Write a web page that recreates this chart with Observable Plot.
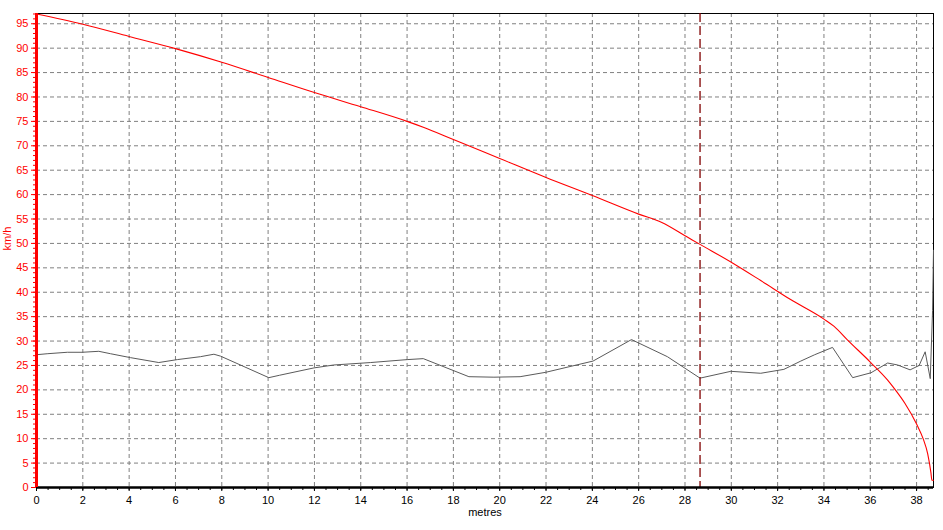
<!DOCTYPE html>
<html>
<head>
<meta charset="utf-8">
<script src="https://cdn.jsdelivr.net/npm/d3@7"></script>
<script src="https://cdn.jsdelivr.net/npm/@observablehq/plot@0.6"></script>
<style>
  html, body { margin: 0; padding: 0; background: #fff; }
  #chart svg { display: block; background: #fff; }
</style>
</head>
<body>
<div id="chart"></div>
<script>
// Red series: speed (km/h) vs distance (metres)
const redDistance = [0, 2, 4, 6, 8, 10, 12, 14, 16, 16.7, 18, 20, 22, 24, 26, 27, 28.1, 28.65, 30.05, 31.27, 32.56, 34, 34.44, 35, 36, 36.75, 37, 37.5, 38, 38.29, 38.48, 38.62, 38.66, 38.73];
const redSpeed    = [97.0, 94.9, 92.4, 89.9, 87.1, 84.0, 80.9, 78.0, 75.0, 73.8, 71.3, 67.4, 63.5, 59.8, 56.0, 54.3, 51.3, 49.8, 46.0, 42.4, 38.5, 34.5, 33.0, 30.3, 25.7, 22.0, 20.5, 17.2, 13.0, 9.9, 6.9, 3.0, 1.5, 1.5];

// Grey series
const greyDistance = [0, 0.46, 1.33, 1.97, 2.69, 3.2, 4.06, 5.28, 6.08, 7.08, 7.66, 7.95, 10.03, 10.5, 11.98, 12.84, 14.43, 16.01, 16.7, 18.67, 19.75, 20.88, 21.99, 24.03, 25.69, 27.24, 28.65, 29.98, 31.27, 32.27, 33.0, 33.6, 34.37, 35.24, 36.03, 36.75, 37.18, 37.72, 38.11, 38.37, 38.59, 38.69, 38.73];
const greySpeed    = [27.2, 27.4, 27.7, 27.7, 27.9, 27.4, 26.6, 25.6, 26.2, 26.8, 27.3, 26.9, 22.5, 23.0, 24.5, 25.1, 25.6, 26.2, 26.4, 22.7, 22.6, 22.7, 23.6, 25.9, 30.3, 26.8, 22.4, 23.8, 23.4, 24.2, 25.9, 27.2, 28.7, 22.5, 23.5, 25.5, 25.1, 24.1, 25.0, 27.8, 22.3, 36.3, 48.6];

// Marker and axis settings
const markerDistance = [28.65];
const xDomain = [0, 38.73];
const yDomain = [0, 97.1];
const xMajorTicks = d3.range(0, 39, 2);
const xMinorTicks = d3.range(0, 38.75, 0.5);
const yMajorTicks = d3.range(0, 96, 5);
const yMinorTicks = d3.range(0, 98, 1);
const xGridTicks = d3.range(2, 39, 2);
const yGridTicks = d3.range(5, 96, 5);
const xLabel = ["metres"];
const yLabel = ["km/h"];

const redData = redDistance.map((d, i) => ({distance: d, speed: redSpeed[i]}));
const greyData = greyDistance.map((d, i) => ({distance: d, speed: greySpeed[i]}));

const chart = Plot.plot({
  width: 943,
  height: 530,
  marginLeft: 36,
  marginRight: 10,
  marginTop: 13,
  marginBottom: 43,
  style: {fontFamily: "'Liberation Sans', Arial, sans-serif", fontSize: "11px", background: "#fff", overflow: "visible"},
  x: {domain: xDomain, label: null},
  y: {domain: yDomain, label: null},
  marks: [
    Plot.gridX(xGridTicks, {stroke: "#808080", strokeOpacity: 1, strokeDasharray: "4,3"}),
    Plot.gridY(yGridTicks, {stroke: "#808080", strokeOpacity: 1, strokeDasharray: "4,3"}),
    Plot.frame({stroke: "#000", strokeWidth: 1}),
    Plot.line(greyData, {x: "distance", y: "speed", stroke: "#5a5a5a", strokeWidth: 1}),
    Plot.line(redData, {x: "distance", y: "speed", stroke: "#ff0000", strokeWidth: 1.1, curve: "monotone-x"}),
    Plot.ruleX(markerDistance, {stroke: "#800000", strokeWidth: 1.3, strokeDasharray: "9,4"}),
    Plot.ruleY([0], {stroke: "#000", strokeWidth: 2.5}),
    Plot.ruleX([0], {stroke: "#ff0000", strokeWidth: 3}),
    Plot.axisX(xMinorTicks, {tickSize: 3, tickFormat: () => "", color: "#000", label: null}),
    Plot.axisX(xMajorTicks, {tickSize: 4, tickPadding: 5, tickFormat: d3.format("d"), color: "#000", label: null}),
    Plot.axisY(yMinorTicks, {tickSize: 3, tickFormat: () => "", color: "#ff0000", label: null}),
    Plot.axisY(yMajorTicks, {tickSize: 5, tickPadding: 3, tickFormat: d3.format("d"), color: "#ff0000", label: null}),
    Plot.text(yLabel, {frameAnchor: "left", dx: -29, rotate: -90, fill: "#ff0000", fontSize: 11}),
    Plot.text(xLabel, {frameAnchor: "bottom", dy: 28, fill: "#000", fontSize: 11})
  ]
});
document.getElementById("chart").appendChild(chart);
</script>
</body>
</html>
